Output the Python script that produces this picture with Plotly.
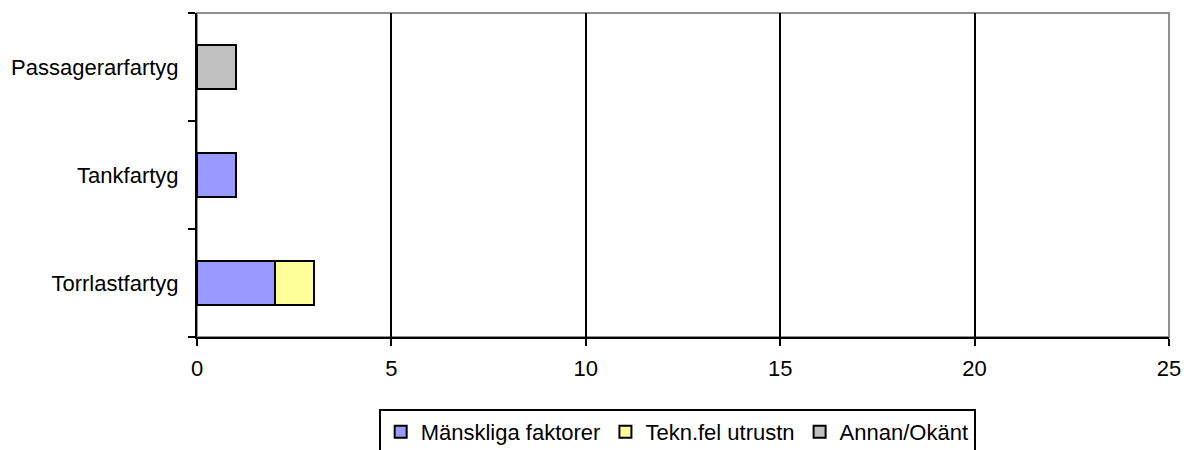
import plotly.graph_objects as go

categories = ["Torrlastfartyg", "Tankfartyg", "Passagerarfartyg"]
manskliga = [2, 1, 0]
tekn = [1, 0, 0]
annan = [0, 0, 1]
x_ticks = [0, 5, 10, 15, 20, 25]

series = [
    ("Mänskliga faktorer", manskliga, "#9999FF"),
    ("Tekn.fel utrustn", tekn, "#FFFF99"),
    ("Annan/Okänt", annan, "#C0C0C0"),
]

fig = go.Figure()
for name, vals, color in series:
    fig.add_trace(go.Bar(
        y=categories, x=vals, name=name, orientation="h",
        marker=dict(color=color, line=dict(color="black", width=2)),
        width=0.4,
    ))

font = dict(family="Liberation Sans, Arial, sans-serif", size=22, color="black")

fig.update_layout(
    barmode="stack",
    width=1184, height=450,
    margin=dict(l=197, r=15, t=13, b=113, autoexpand=False),
    paper_bgcolor="white", plot_bgcolor="white",
    font=font,
    showlegend=True,
    legend=dict(
        orientation="h", x=0.494, xanchor="center", y=-0.222, yanchor="top",
        bordercolor="black", borderwidth=2, font=font,
        traceorder="normal", itemwidth=30, tracegroupgap=0,
    ),
    xaxis=dict(
        range=[0, 25], tickvals=x_ticks, ticktext=[str(v) for v in x_ticks],
        showgrid=True, gridcolor="black", gridwidth=2,
        showline=True, linecolor="black", linewidth=2,
        ticks="outside", ticklen=7, tickwidth=2, tickcolor="black",
        zeroline=False, tickfont=font, automargin=False, ticklabelstandoff=4,
    ),
    yaxis=dict(
        categoryorder="array", categoryarray=categories,
        showgrid=False, showline=True, linecolor="black", linewidth=2,
        ticks="outside", ticklen=7, tickwidth=2, tickcolor="black",
        tickson="boundaries", tickfont=font, automargin=False,
        ticklabelstandoff=12,
    ),
    shapes=[dict(
        type="rect", xref="paper", yref="paper", x0=0, x1=1, y0=0, y1=1,
        line=dict(color="#909090", width=2), layer="below",
    )],
)

fig.write_html(
    "out.html",
    config={"displayModeBar": False},
    post_script="document.body.style.margin='0';document.body.style.overflow='hidden';",
)
